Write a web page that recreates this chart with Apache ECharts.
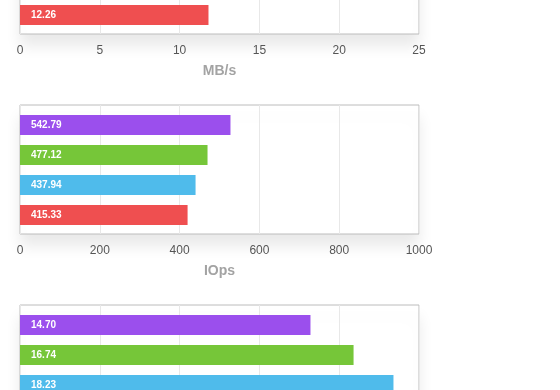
<!DOCTYPE html>
<html>
<head>
<meta charset="utf-8">
<script src="https://cdn.jsdelivr.net/npm/echarts@6/dist/echarts.min.js"></script>
<style>
html,body{margin:0;padding:0;background:#fff;overflow:hidden;}
#wrap{position:relative;width:560px;height:390px;overflow:hidden;}
.panel{position:absolute;left:0;width:560px;height:200px;}
</style>
</head>
<body>
<div id="wrap">
  <div class="panel" id="p0" style="top:-105px"></div>
  <div class="panel" id="p1" style="top:95px"></div>
  <div class="panel" id="p2" style="top:295px"></div>
</div>
<script>
// bar categories, bottom-to-top order
const categories = ['red', 'blue', 'green', 'purple'];
const barColors = ['#ef4f50', '#4fbbeb', '#76c639', '#9b4fed'];

// Top panel (MB/s) – only the lowest bar is visible
const mbBars = [11.81, null, null, null];
const mbLabels = ['12.26', '', '', ''];
const mbTicks = { min: 0, max: 25, interval: 5 };

// Middle panel (IOps)
const iopsBars = [420, 440, 470, 527.5];
const iopsLabels = ['415.33', '437.94', '477.12', '542.79'];
const iopsTicks = { min: 0, max: 1000, interval: 200 };

// Bottom panel – lowest bar is below the visible area
const latBars = [null, 18.72, 16.72, 14.56];
const latLabels = ['', '18.23', '16.74', '14.70'];
const latTicks = { min: 0, max: 20, interval: 4 };

const FONT = '"Liberation Sans", Arial, Helvetica, sans-serif';
const panels = [
  { id: 'p0', bars: mbBars, labels: mbLabels, ticks: mbTicks, name: 'MB/s' },
  { id: 'p1', bars: iopsBars, labels: iopsLabels, ticks: iopsTicks, name: 'IOps' },
  { id: 'p2', bars: latBars, labels: latLabels, ticks: latTicks, name: '' }
];

panels.forEach((p) => {
  const chart = echarts.init(document.getElementById(p.id), null, { renderer: 'canvas' });
  const data = p.bars.map((v, k) => ({
    value: v, itemStyle: { color: barColors[k] }, labelText: p.labels[k]
  }));
  chart.setOption({
    animation: false,
    grid: [
      { // frame
        left: 20, width: 399, top: 10, height: 129, outerBoundsMode: 'none',
        show: true, backgroundColor: '#fff', borderColor: '#bcbcbc', borderWidth: 1,
        shadowColor: 'rgba(0,0,0,0.09)', shadowBlur: 14, shadowOffsetY: 12
      },
      { // bars
        left: 20, width: 399, top: 15, height: 120, outerBoundsMode: 'none', show: false
      }
    ],
    xAxis: [
      {
        type: 'value', gridIndex: 0, min: p.ticks.min, max: p.ticks.max, interval: p.ticks.interval,
        axisLine: { show: false }, axisTick: { show: false },
        splitLine: { show: true, lineStyle: { color: '#e8e8e8', width: 1 } },
        axisLabel: { color: '#555', fontSize: 12, fontFamily: FONT, margin: 11, formatter: (v) => String(v) },
        name: p.name, nameLocation: 'middle', nameGap: 30,
        nameTextStyle: { color: '#a3a3a3', fontSize: 14, fontWeight: 'bold', fontFamily: FONT }
      },
      {
        type: 'value', gridIndex: 1, min: p.ticks.min, max: p.ticks.max, show: false
      }
    ],
    yAxis: [
      { type: 'value', gridIndex: 0, show: false, splitLine: { show: false } },
      { type: 'category', gridIndex: 1, data: categories, show: false }
    ],
    series: [{
      type: 'bar', xAxisIndex: 1, yAxisIndex: 1, barWidth: 20,
      data: data,
      label: {
        show: true, position: 'insideLeft', distance: 11,
        color: '#fff', fontSize: 10, fontWeight: 'bold', fontFamily: FONT,
        formatter: (params) => params.data.labelText
      }
    }]
  });
});
</script>
</body>
</html>
